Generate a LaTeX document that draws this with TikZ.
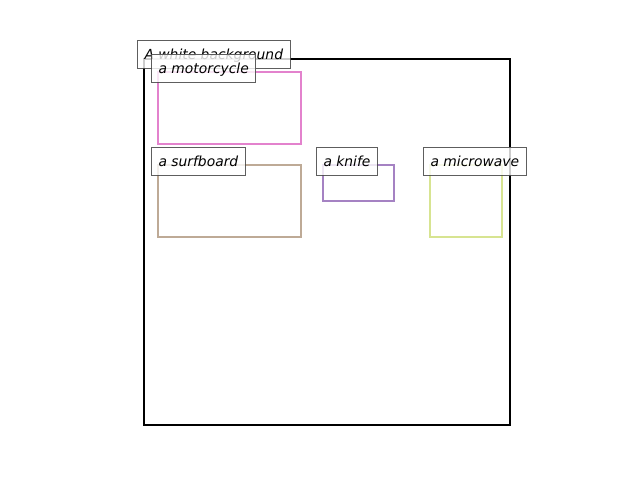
\documentclass[tikz,border=0pt]{standalone}
\usepackage{fontspec}
\setmainfont{DejaVu Sans}
\begin{document}
\begin{tikzpicture}[x=0.75pt,y=-0.75pt,
  frame/.style={draw=black,line width=1.5pt},
  bbox/.style={line width=1.6pt},
  lbl/.style={anchor=west,draw=black!70,line width=0.75pt,fill=white,fill opacity=0.8,draw opacity=0.9,text opacity=1,
    inner xsep=5.25pt,inner ysep=5pt,text height=9pt,text depth=1.5pt,minimum height=21pt,
    font=\fontsize{10.4}{12}\selectfont\itshape}]
\definecolor{cmoto}{RGB}{227,130,205}
\definecolor{csurf}{RGB}{190,170,150}
\definecolor{cknife}{RGB}{165,130,195}
\definecolor{cmicro}{RGB}{215,228,145}
\useasboundingbox (0,0) rectangle (640,480);
\draw[frame] (144,59) rectangle (510,425);
\draw[bbox,draw=cmoto] (158,72) rectangle (301,144);
\draw[bbox,draw=csurf] (158,165) rectangle (301,237);
\draw[bbox,draw=cknife] (323,165) rectangle (394,201);
\draw[bbox,draw=cmicro] (430,165) rectangle (502,237);
\node[lbl] (lbg) at (137,54) {A white background};
\node[lbl] (lmoto) at (151,68) {a motorcycle};
\node[lbl] (lsurf) at (151,161) {a surfboard};
\node[lbl] (lknife) at (316,161) {a knife};
\node[lbl] (lmicro) at (423,161) {a microwave};
\end{tikzpicture}
\end{document}
